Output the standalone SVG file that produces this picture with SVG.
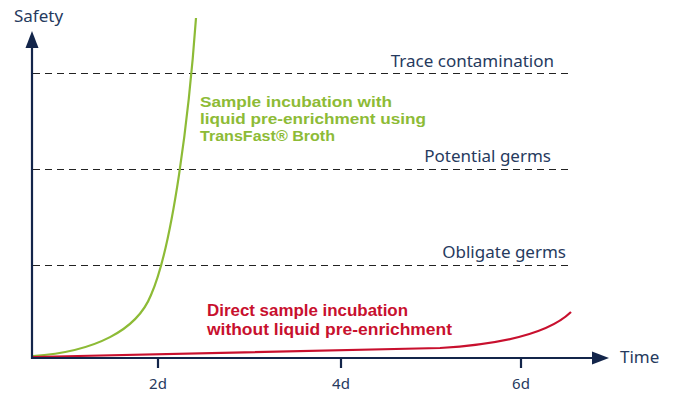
<svg xmlns="http://www.w3.org/2000/svg" width="673" height="396" viewBox="0 0 673 396">
<style>
.axis{stroke:#13254a;stroke-width:2.2;fill:none}
.dash{stroke:#222;stroke-width:1;stroke-dasharray:7 5;fill:none}
.lbl{font-family:"Noto Sans","Open Sans",sans-serif;font-size:17px;fill:#263a5e}
.tick{font-family:"Noto Sans","Open Sans",sans-serif;font-size:15px;fill:#263a5e;text-anchor:middle}
.g{font-family:"Liberation Sans",Arial,sans-serif;font-size:15px;font-weight:bold;fill:#8dbb36}
.r{font-family:"Liberation Sans",Arial,sans-serif;font-size:16px;font-weight:bold;fill:#c8102e}
</style>
<rect width="673" height="396" fill="#fff"/>
<g id="levels">
<line class="dash" x1="33" y1="73.5" x2="568" y2="73.5"/>
<line class="dash" x1="33" y1="169.5" x2="568" y2="169.5"/>
<line class="dash" x1="33" y1="265.5" x2="568" y2="265.5"/>
<text class="lbl" x="554" y="67" text-anchor="end">Trace contamination</text>
<text class="lbl" x="551" y="162" text-anchor="end">Potential germs</text>
<text class="lbl" x="566" y="258" text-anchor="end">Obligate germs</text>
</g>
<g id="connectors">
<path d="M33,356 C95,352 137,330 151,295 C173,245 189,115 196,18" stroke="#8dbb36" stroke-width="2.2" fill="none"/>
<path d="M33,357 L440,348 C490,345 545,337 571,312" stroke="#c8102e" stroke-width="2.2" fill="none"/>
</g>
<g id="axes">
<line class="axis" x1="32" y1="359" x2="32" y2="46"/>
<polygon points="32,31 25.5,48 38.5,48" fill="#13254a"/>
<line class="axis" x1="31" y1="358" x2="592" y2="358"/>
<polygon points="609,358 592,351.5 592,364.5" fill="#13254a"/>
<line class="axis" x1="158" y1="358" x2="158" y2="368"/>
<line class="axis" x1="341" y1="358" x2="341" y2="368"/>
<line class="axis" x1="521" y1="358" x2="521" y2="368"/>
<text class="lbl" x="14" y="22">Safety</text>
<text class="lbl" x="620" y="363">Time</text>
<text class="tick" x="158" y="389">2d</text>
<text class="tick" x="341" y="389">4d</text>
<text class="tick" x="521" y="389">6d</text>
</g>
<g id="green-label">
<text class="g" x="200" y="107" textLength="192" lengthAdjust="spacingAndGlyphs">Sample incubation with</text>
<text class="g" x="200" y="124" textLength="226" lengthAdjust="spacingAndGlyphs">liquid pre-enrichment using</text>
<text class="g" x="200" y="141" textLength="135" lengthAdjust="spacingAndGlyphs">TransFast® Broth</text>
</g>
<g id="red-label">
<text class="r" x="207" y="316" textLength="201" lengthAdjust="spacingAndGlyphs">Direct sample incubation</text>
<text class="r" x="207" y="335" textLength="245" lengthAdjust="spacingAndGlyphs">without liquid pre-enrichment</text>
</g>
</svg>
